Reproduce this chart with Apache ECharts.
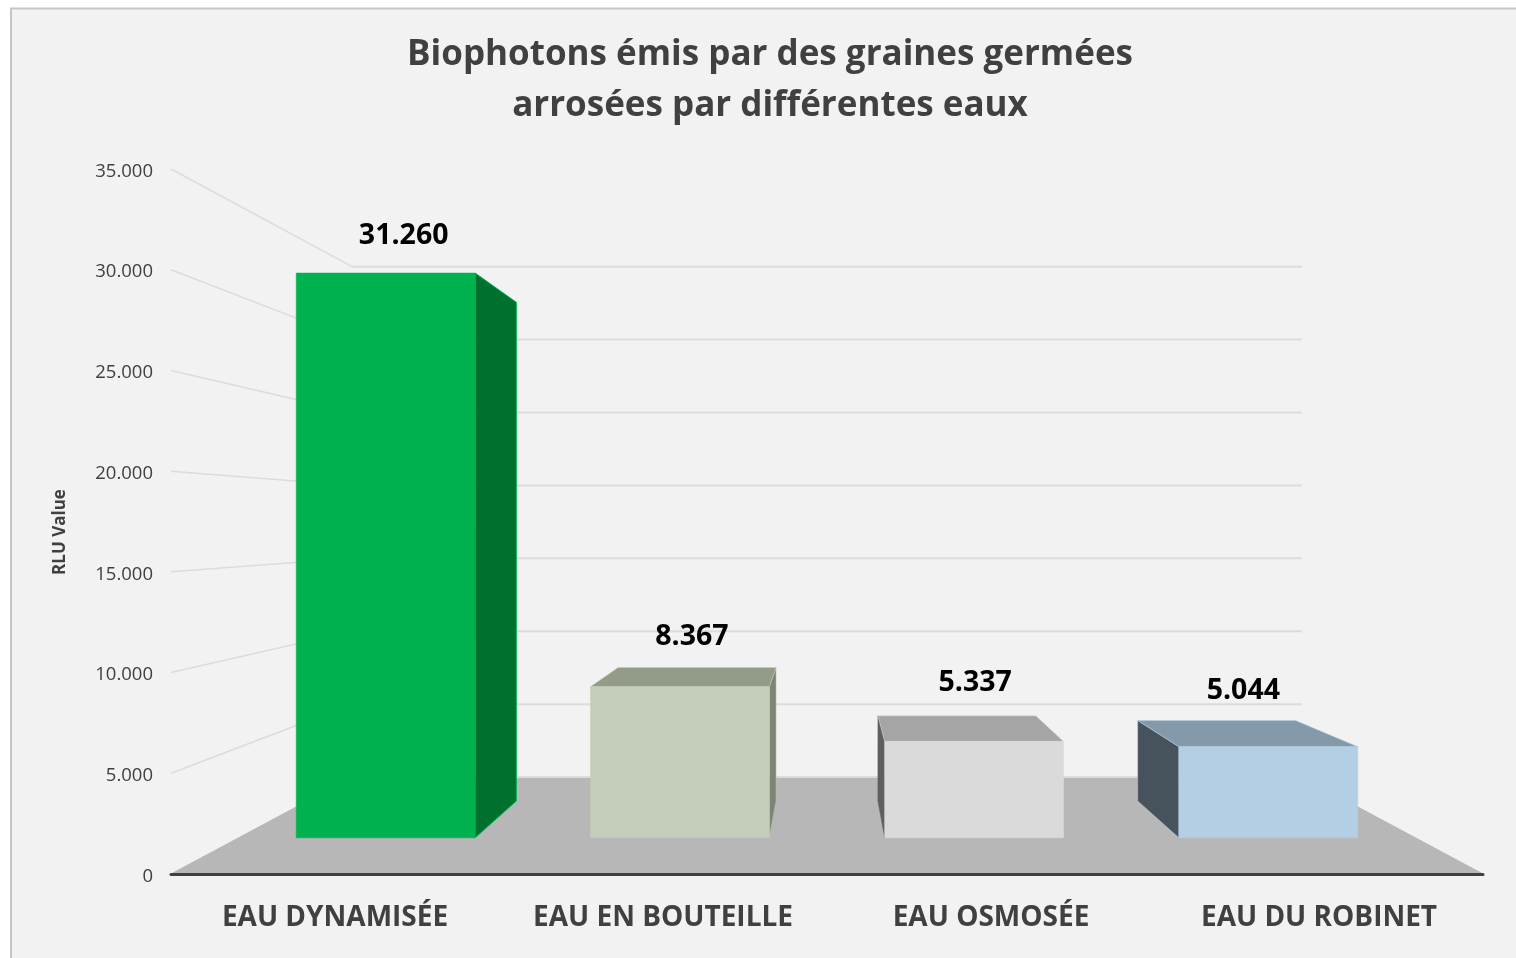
<!DOCTYPE html>
<html>
<head>
<meta charset="utf-8">
<style>html,body{margin:0;padding:0;background:#fff;overflow:hidden}#c{width:1516px;height:958px}</style>
<script src="https://cdn.jsdelivr.net/npm/echarts@6/dist/echarts.min.js"></script>
</head>
<body>
<div id="c"></div>
<script>
const categories = ['EAU DYNAMISÉE', 'EAU EN BOUTEILLE', 'EAU OSMOSÉE', 'EAU DU ROBINET'];
const values = [31260, 8367, 5337, 5044];
const yTicks = [0, 5000, 10000, 15000, 20000, 25000, 30000, 35000];

const faceColors = ['#00b14f', '#c4cdb9', '#dadada', '#b4cfe3'];
const topColors = ['#00702f', '#939b89', '#a5a5a5', '#849aaa'];
const sideColors = ['#00702f', '#7e8577', '#5f5f5f', '#46525c'];
const labelShift = [[18, -37], [12, -50], [1, -59], [-25, -56]];

const FONT = '"Open Sans", sans-serif';
const TEXT = '#404040';
const vanishValue = 17426;
const wallScale = 0.724, barFrontScale = 0.897, barBackScale = 0.792, barRatio = 0.608;

function fmt(v) { return String(v).replace(/\B(?=(\d{3})+$)/g, '.'); }
function vanishing(params, api) {
  const cs = params.coordSys;
  return [cs.x + cs.width / 2, api.coord([0, vanishValue])[1]];
}
function proj(p, vp, s) { return [vp[0] + (p[0] - vp[0]) * s, vp[1] + (p[1] - vp[1]) * s]; }
function poly(points, fill, stroke, w) {
  return { type: 'polygon', shape: { points: points },
    style: { fill: fill, stroke: stroke || fill, lineWidth: w === undefined ? 1 : w } };
}

function renderFloor(params, api) {
  const cs = params.coordSys, vp = vanishing(params, api);
  const y0 = api.coord([0, 0])[1];
  const a = [cs.x, y0], b = [cs.x + cs.width, y0];
  return poly([a, b, proj(b, vp, wallScale), proj(a, vp, wallScale)], '#b7b7b7');
}
function renderWallLine(params, api) {
  const cs = params.coordSys, vp = vanishing(params, api);
  const y = api.coord([0, api.value(1)])[1];
  const a = [cs.x, y], b = [cs.x + cs.width, y];
  const ba = proj(a, vp, wallScale), bb = proj(b, vp, wallScale);
  const color = '#dcdcdc';
  const children = [{ type: 'line', shape: { x1: ba[0], y1: ba[1], x2: bb[0], y2: bb[1] },
    style: { stroke: color, lineWidth: 2 } }];
  if (api.value(1) > 0) {
    children.push({ type: 'line', shape: { x1: a[0], y1: a[1], x2: ba[0], y2: ba[1] },
      style: { stroke: color, lineWidth: 1.5 } });
  }
  return { type: 'group', children: children };
}
function renderBar(params, api) {
  const i = params.dataIndex, vp = vanishing(params, api);
  const top = api.coord([api.value(0), api.value(1)]);
  const base = api.coord([api.value(0), 0]);
  const half = api.size([1, 0])[0] * barRatio / 2;
  const f = barFrontScale, k = barBackScale;
  const ftl = proj([top[0] - half, top[1]], vp, f), ftr = proj([top[0] + half, top[1]], vp, f);
  const fbl = proj([top[0] - half, base[1]], vp, f), fbr = proj([top[0] + half, base[1]], vp, f);
  const btl = proj([top[0] - half, top[1]], vp, k), btr = proj([top[0] + half, top[1]], vp, k);
  const bbl = proj([top[0] - half, base[1]], vp, k), bbr = proj([top[0] + half, base[1]], vp, k);
  const children = [];
  if (ftr[0] < vp[0]) children.push(poly([ftr, btr, bbr, fbr], sideColors[i], faceColors[i], i === 0 ? 1 : 0.5));
  if (ftl[0] > vp[0]) children.push(poly([ftl, btl, bbl, fbl], sideColors[i], i === 3 ? faceColors[i] : sideColors[i], 0.5));
  if (ftl[1] > vp[1]) children.push(poly([ftl, ftr, btr, btl], topColors[i], faceColors[i], 0.5));
  children.push(poly([ftl, ftr, fbr, fbl], faceColors[i], faceColors[i], 0.5));
  children.push({ type: 'text', style: {
    text: fmt(api.value(1)),
    x: (ftl[0] + ftr[0]) / 2 + labelShift[i][0], y: ftl[1] + labelShift[i][1],
    align: 'center', verticalAlign: 'middle',
    font: '700 28.5px ' + FONT, fill: '#000000' } });
  return { type: 'group', children: children };
}

const chart = echarts.init(document.getElementById('c'), null, { renderer: 'canvas' });
chart.setOption({
  animation: false,
  backgroundColor: '#ffffff',
  title: {
    text: 'Biophotons émis par des graines germées\narrosées par différentes eaux',
    left: 765, top: 25, textAlign: 'center',
    textStyle: { fontFamily: FONT, fontWeight: 700, fontSize: 35, lineHeight: 51, color: TEXT }
  },
  graphic: [
    { type: 'rect', z: -10, silent: true, shape: { x: 11, y: 8.5, width: 1600, height: 1100 },
      style: { fill: '#f2f2f2', stroke: '#c6c6c6', lineWidth: 2 } },
    { type: 'text', z: 10, x: 60, y: 532, rotation: Math.PI / 2,
      style: { text: 'RLU Value', align: 'center', verticalAlign: 'middle',
        font: '700 17px ' + FONT, fill: TEXT } }
  ],
  grid: { left: 171, right: 33, top: 169, bottom: 84, containLabel: false },
  xAxis: {
    type: 'category', data: categories, z: 6,
    axisLine: { show: true, lineStyle: { color: '#404040', width: 3, cap: 'round' } },
    axisTick: { show: false }, splitLine: { show: false },
    axisLabel: { margin: 30, fontFamily: FONT, fontWeight: 700, fontSize: 28, color: TEXT, interval: 0 }
  },
  yAxis: {
    type: 'value', min: 0, max: 35000, interval: 5000,
    axisLine: { show: false }, axisTick: { show: false }, splitLine: { show: false },
    axisLabel: { margin: 18, color: TEXT,
      rich: { t: { fontFamily: FONT, fontSize: 18.5, color: TEXT, padding: [5, 0, 0, 0] } },
      formatter: v => yTicks.includes(v) ? '{t|' + fmt(v) + '}' : '' }
  },
  series: [
    { type: 'custom', name: 'floor', z: 1, clip: false, silent: true, coordinateSystem: 'cartesian2d',
      renderItem: renderFloor, data: [[0, 0]] },
    { type: 'custom', name: 'walls', z: 2, clip: false, silent: true, coordinateSystem: 'cartesian2d',
      renderItem: renderWallLine, data: yTicks.map(v => [0, v]) },
    { type: 'custom', name: 'RLU Value', z: 3, clip: false, coordinateSystem: 'cartesian2d',
      renderItem: renderBar, data: values.map((v, i) => [i, v]) }
  ]
});
</script>
</body>
</html>
